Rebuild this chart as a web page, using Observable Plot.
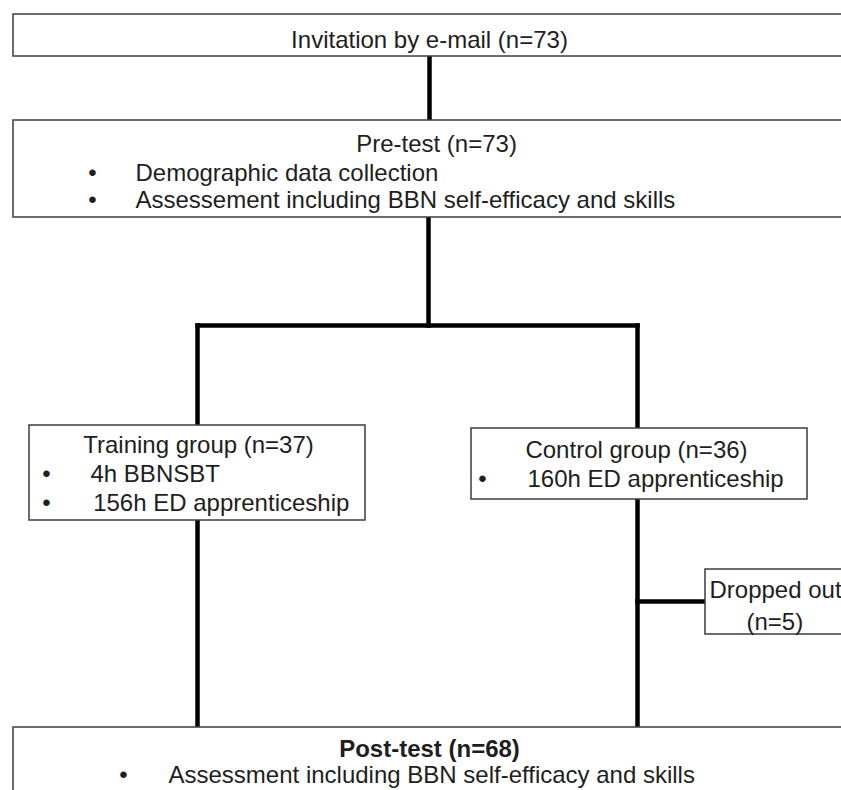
<!DOCTYPE html>
<html>
<head>
<meta charset="utf-8">
<script src="https://cdn.jsdelivr.net/npm/d3@7"></script>
<script src="https://cdn.jsdelivr.net/npm/@observablehq/plot@0.6"></script>
<style>
  html, body { margin: 0; padding: 0; background: #fff; overflow: hidden; }
  #chart { width: 841px; height: 790px; overflow: hidden; }
</style>
</head>
<body>
<div id="chart"></div>
<script>
// ---- Data: flow stages, counts and bullet text ----
const stages = ["Invitation by e-mail", "Pre-test", "Training group", "Control group", "Dropped out", "Post-test"];
const counts = [73, 73, 37, 36, 5, 68];
const preBullets = ["Demographic data collection", "Assessement including BBN self-efficacy and skills"];
const trainingBullets = ["4h BBNSBT", " 156h ED apprenticeship"];
const controlBullets = ["160h ED apprenticeship"];
const postBullets = ["Assessment including BBN self-efficacy and skills"];

// ---- Layout (diagram coordinates, y downward) ----
const boxX1 = [13, 13, 29, 471, 705, 13];
const boxX2 = [1000, 1000, 365, 807, 1000, 1000];
const boxY1 = [14, 120, 425, 428, 569, 727];
const boxY2 = [56, 217, 520, 499, 634, 900];

const boxes = stages.map((s, i) => ({stage: s, x1: boxX1[i], x2: boxX2[i], y1: boxY1[i], y2: boxY2[i]}));

const links = [
  {x1: 429, y1: 56, x2: 429, y2: 120},
  {x1: 428, y1: 217, x2: 428, y2: 325},
  {x1: 197, y1: 325, x2: 637, y2: 325},
  {x1: 197, y1: 325, x2: 197, y2: 425},
  {x1: 637, y1: 325, x2: 637, y2: 428},
  {x1: 197, y1: 520, x2: 197, y2: 727},
  {x1: 637, y1: 499, x2: 637, y2: 727},
  {x1: 637, y1: 601, x2: 705, y2: 601}
];

const centeredTitles = [
  {text: `${stages[0]} (n=${counts[0]})`, x: 429, y: 40},
  {text: `${stages[1]} (n=${counts[1]})`, x: 436, y: 144},
  {text: `${stages[2]} (n=${counts[2]})`, x: 198, y: 445},
  {text: `${stages[3]} (n=${counts[3]})`, x: 636, y: 449.5}
];
const startTitles = [
  {text: stages[4], x: 709, y: 589.5},
  {text: `(n=${counts[4]})`, x: 746, y: 621.5}
];
const boldTitles = [
  {text: `${stages[5]} (n=${counts[5]})`, x: 429, y: 749}
];

const bulletLines = [
  {text: preBullets[0], bx: 92, x: 135, y: 172.5},
  {text: preBullets[1], bx: 92, x: 135, y: 199.5},
  {text: trainingBullets[0], bx: 46, x: 90, y: 474},
  {text: trainingBullets[1], bx: 46, x: 86, y: 503},
  {text: controlBullets[0], bx: 482, x: 527, y: 479},
  {text: postBullets[0], bx: 123, x: 168, y: 775}
];

const font = "Liberation Sans, Arial, Helvetica, sans-serif";
const fs = 24;
const ink = "#1e1e1e";

const plot = Plot.plot({
  width: 841,
  height: 790,
  margin: 0,
  style: {background: "white", fontFamily: font},
  x: {domain: [0, 841], axis: null},
  y: {domain: [0, 790], reverse: true, axis: null},
  marks: [
    Plot.link(links, {x1: "x1", y1: "y1", x2: "x2", y2: "y2", stroke: "#000", strokeWidth: 4.5, strokeLinecap: "square", clip: true}),
    Plot.rect(boxes, {x1: "x1", x2: "x2", y1: "y1", y2: "y2", fill: "white", stroke: "#3c3c3c", strokeWidth: 1.5, clip: true}),
    Plot.text(centeredTitles, {x: "x", y: "y", text: "text", textAnchor: "middle", fontSize: fs, fontFamily: font, fill: ink, clip: true}),
    Plot.text(startTitles, {x: "x", y: "y", text: "text", textAnchor: "start", fontSize: fs, fontFamily: font, fill: ink, clip: true}),
    Plot.text(boldTitles, {x: "x", y: "y", text: "text", textAnchor: "middle", fontWeight: "bold", fontSize: fs, fontFamily: font, fill: ink, clip: true}),
    Plot.text(bulletLines, {x: "bx", y: "y", text: () => "•", textAnchor: "middle", fontSize: fs, fontFamily: font, fill: ink}),
    Plot.text(bulletLines, {x: "x", y: "y", text: "text", textAnchor: "start", fontSize: fs, fontFamily: font, fill: ink, clip: true})
  ]
});
document.getElementById("chart").appendChild(plot);
</script>
</body>
</html>
